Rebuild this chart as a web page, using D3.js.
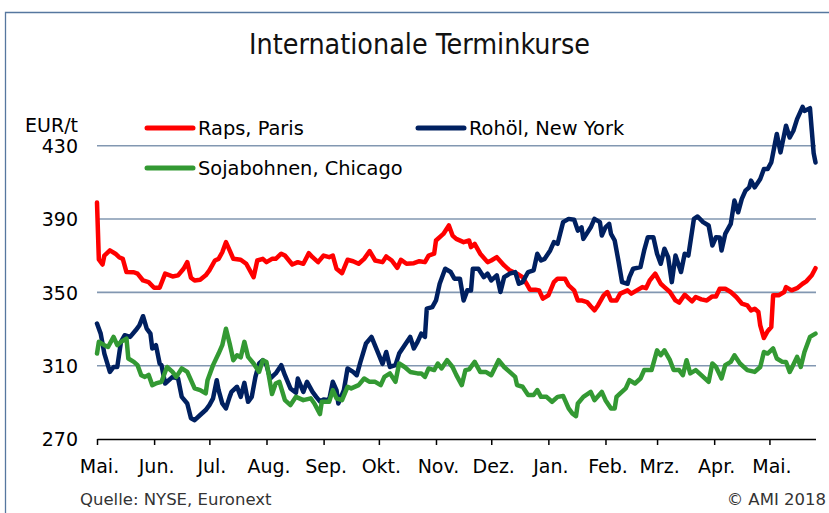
<!DOCTYPE html>
<html>
<head>
<meta charset="utf-8">
<script src="https://cdn.jsdelivr.net/npm/d3@7"></script>
<style>
	body { margin: 0; background: #fff; }
	svg { display: block; }
	.lbl { font-family: "DejaVu Sans", Verdana, sans-serif; font-size: 19px; fill: #000; }
	.leg { font-family: "DejaVu Sans", Verdana, sans-serif; font-size: 19.4px; fill: #000; }
	.foot { font-family: "DejaVu Sans", Verdana, sans-serif; font-size: 16.5px; fill: #333; }
</style>
</head>
<body>
<svg id="chart" width="829" height="513"></svg>
<script>
// values; first number = days since 1 May 2017
var startDate = new Date(2017, 4, 1);
var endDate = new Date(2017, 4, 1 + 390);

var monthLabels = ['Mai.', 'Jun.', 'Jul.', 'Aug.', 'Sep.', 'Okt.', 'Nov.', 'Dez.', 'Jan.', 'Feb.', 'Mrz.', 'Apr.', 'Mai.'];
var yTicks = [270, 310, 350, 390, 430];

var raps = [
	[0, 399], [1, 368], [3, 365.2], [4, 370.1], [7, 372.9], [10, 371.1], [12, 369.2], [14, 368.3], [16, 361.1], [20, 361],
	[22, 360.2], [25, 356.5], [28, 355.6], [31, 352.5], [34, 352.5], [37, 360.2], [41, 358.7], [44, 359.3], [47, 362.9], [49, 366.5],
	[51, 358], [53, 356.5], [56, 356.9], [59, 359.3], [61, 362], [64, 367.4], [66, 368.3], [68, 371.9], [70, 377.4], [72, 372.9],
	[74, 368.3], [78, 367.8], [81, 365.6], [85, 358.3], [87, 367.4], [90, 368.3], [92, 366.5], [95, 368.3], [97, 368.3], [100, 371.1],
	[102, 370.1], [106, 365.2], [109, 366.5], [112, 365.6], [115, 371.4], [117, 369.2], [120, 366.5], [123, 370.1], [126, 369.2], [128, 370.1],
	[130, 362.9], [133, 360.5], [136, 367.8], [139, 367], [142, 365.6], [145, 368.3], [148, 372.5], [151, 367.4], [155, 366.5], [157, 369.6],
	[160, 367.4], [163, 363.4], [165, 367.8], [168, 365.6], [172, 365.9], [175, 367], [178, 366.5], [180, 370.1], [183, 371.1], [184, 378.3],
	[188, 381.9], [191, 386.5], [193, 381], [195, 379.2], [199, 377.4], [202, 378.3], [203, 374.7], [205, 376.5], [208, 371.1], [212, 366.5],
	[214, 367.4], [217, 369.2], [221, 364.7], [224, 362], [228, 360.2], [231, 358.3], [233, 355], [235, 351.5], [238, 351.5], [240, 351.1],
	[242, 346.6], [245, 348.4], [248, 355.6], [250, 357.5], [254, 357.5], [256, 353.8], [259, 351.1], [261, 345.6], [263, 345.6], [266, 344.7],
	[268, 342.4], [270, 340.2], [272, 343], [275, 348.4], [277, 350.2], [279, 345.6], [282, 345.6], [284, 349.3], [288, 351.1], [290, 349.3],
	[293, 351.1], [296, 352.9], [298, 352.3], [300, 356.5], [303, 360.2], [306, 354.7], [308, 352.9], [311, 350.2], [314, 345.6], [316, 344.4],
	[319, 348.7], [323, 345.1], [325, 347.5], [328, 346.2], [331, 345.6], [334, 347.8], [336, 347.8], [338, 352], [341, 352], [344, 350.2],
	[347, 347.5], [350, 343.9], [353, 342.9], [355, 340.2], [357, 341.1], [359, 339.3], [360, 332], [362, 325.1], [364, 328.8], [366, 331.1],
	[367, 348.4], [370, 348.4], [373, 350.2], [374, 352.9], [377, 351.1], [380, 352.3], [383, 354.7], [385, 356], [388, 359.3], [390, 363.2]
];

var rohoel = [
	[0, 333], [2, 327.5], [4, 316.6], [7, 306.6], [9, 309.3], [11, 309.3], [13, 323], [15, 326.6], [18, 325.7], [21, 329.3],
	[23, 332], [25, 337], [27, 330.2], [29, 327.5], [30, 319.4], [32, 321.2], [34, 311.2], [35, 310.3], [37, 300.3], [41, 303.9],
	[44, 303], [46, 293], [49, 289.4], [51, 281.3], [53, 280.3], [56, 283.1], [59, 285.8], [61, 288.5], [63, 292.2], [65, 302.1],
	[66, 296.7], [68, 289.4], [70, 286.7], [72, 293], [73, 295.7], [76, 298.5], [78, 293], [80, 300.6], [82, 290.3], [84, 293],
	[86, 303.9], [88, 311.2], [90, 313], [92, 310.3], [94, 303], [97, 305.8], [100, 310.3], [102, 304.8], [105, 297.6], [108, 295.2],
	[109, 303], [112, 295.7], [114, 301.2], [117, 295.7], [119, 293], [121, 290.5], [123, 291.6], [126, 291.2], [128, 301.2], [130, 296.7],
	[131, 289.4], [134, 296.7], [136, 308.5], [139, 306.6], [141, 304.8], [143, 312.1], [146, 322.1], [149, 325.7], [152, 318.4], [155, 311],
	[157, 317.5], [159, 309.3], [162, 310.3], [164, 316.6], [167, 321.2], [170, 325.7], [172, 319.4], [174, 323], [176, 327.5], [178, 325.7],
	[179, 341.1], [182, 342], [184, 345.6], [186, 354.7], [189, 362.9], [192, 361.1], [194, 357.5], [197, 357.5], [199, 345.6], [201, 351.1],
	[203, 351], [204, 362.9], [207, 362.9], [210, 358.3], [212, 360.2], [214, 356.5], [217, 359.3], [219, 350.2], [221, 358.3], [224, 360.2],
	[227, 361.1], [229, 354.7], [231, 355.6], [234, 361.1], [237, 362], [239, 371.1], [241, 367.4], [243, 368.3], [246, 372.9], [248, 377.4],
	[250, 376.5], [253, 388.3], [256, 390.1], [259, 389.6], [261, 383.7], [263, 385.5], [264, 379.2], [268, 385.5], [270, 390.1], [273, 388.3],
	[274, 381], [276, 385.5], [278, 387.4], [279, 381.9], [281, 378.3], [283, 367.4], [285, 355.6], [288, 354.7], [289, 358.3], [291, 362.9],
	[295, 363.8], [297, 372.9], [299, 380.1], [302, 380.1], [304, 371.1], [306, 365.6], [308, 373.8], [310, 369.2], [312, 355.6], [314, 370.1],
	[317, 361.1], [319, 371.1], [321, 370.1], [324, 390.1], [326, 391.4], [329, 388.3], [332, 386.5], [334, 375.6], [336, 380.1], [338, 380],
	[339, 372.9], [341, 381.9], [344, 387.4], [346, 400.1], [348, 393.7], [350, 401], [352, 405.5], [354, 407.3], [355, 411], [357, 407.3],
	[360, 411.9], [362, 417.3], [364, 417.3], [366, 420.9], [369, 436.4], [371, 426.4], [374, 440.9], [376, 434.5], [378, 438.2], [380, 444.5],
	[383, 451.2], [384, 449], [387, 450.5], [388, 438.2], [389, 426], [390, 420.9]
];

var soja = [
	[0, 316.6], [1, 323], [4, 321.2], [6, 320.2], [9, 325.7], [11, 321.2], [13, 323], [16, 324.8], [17, 313.9], [20, 312.1],
	[22, 310.3], [24, 304.8], [26, 303.9], [28, 305], [30, 299.4], [32, 300.3], [35, 301.2], [38, 309.3], [41, 306.6], [43, 303.9],
	[46, 308.5], [49, 306.6], [51, 302.1], [53, 297.6], [56, 296.7], [59, 294.9], [60, 302.1], [63, 310.3], [66, 316.6], [68, 321.2],
	[70, 330.2], [72, 322.1], [74, 313], [76, 315.7], [78, 314.5], [80, 323], [82, 314.8], [85, 311.2], [88, 306.6], [90, 313],
	[92, 312], [95, 294.5], [97, 300.3], [99, 301.2], [102, 291.2], [105, 288.5], [108, 293], [112, 291.2], [116, 292.2], [118, 289.4],
	[121, 283.6], [122, 290.3], [126, 290.3], [128, 296.7], [130, 292.2], [133, 291.2], [136, 298.5], [138, 297.6], [142, 299.4], [145, 303],
	[148, 301.2], [151, 301.2], [154, 299.4], [156, 303.9], [159, 305.8], [162, 301.2], [164, 311.2], [167, 309.3], [170, 306.6], [174, 305.8],
	[176, 305.8], [178, 303.9], [180, 308.5], [183, 307.6], [185, 311.2], [187, 308.5], [190, 313], [193, 309.3], [195, 305], [198, 299.4],
	[200, 307.6], [202, 308], [205, 312.1], [208, 306.6], [211, 306.6], [214, 304.8], [218, 313], [221, 309.3], [224, 306.6], [227, 303.9],
	[228, 299.4], [231, 298.5], [234, 294], [237, 294], [239, 296.7], [241, 293], [244, 293], [247, 290.3], [250, 293], [253, 293.5],
	[256, 286.7], [258, 284], [260, 282.5], [261, 289.4], [264, 293], [268, 295.7], [270, 291.2], [274, 295.7], [276, 291.2], [279, 286.7],
	[281, 286.7], [282, 293], [284, 294.9], [287, 297.6], [289, 302.1], [292, 300.3], [295, 303], [297, 307.6], [301, 307.6], [304, 318.4],
	[306, 315.7], [308, 318.4], [311, 313], [313, 307.6], [316, 307.6], [318, 304.8], [320, 313], [322, 305.8], [325, 307.6], [328, 304.8],
	[332, 301.2], [334, 311.2], [336, 309.3], [339, 303], [341, 310.3], [344, 312.1], [346, 315.7], [349, 311.2], [353, 307.6], [357, 306.6],
	[360, 309.3], [362, 317.5], [364, 316.6], [367, 319.4], [369, 313.9], [372, 312.1], [374, 312], [376, 306.6], [377, 308.5], [380, 314.8],
	[382, 309.3], [384, 317.5], [387, 325.7], [390, 327.5]
];

var series = [
	{ name: 'Raps, Paris', color: '#ff0000', data: raps, lx: 147, ly: 128 },
	{ name: 'Rohöl, New York', color: '#002060', data: rohoel, lx: 418, ly: 128 },
	{ name: 'Sojabohnen, Chicago', color: '#339933', data: soja, lx: 147, ly: 168 }
];

var svg = d3.select('#chart');

var x = d3.scaleTime().domain([startDate, endDate]).range([97, 815.5]);
var y = d3.scaleLinear().domain([270, 450]).range([439, 109.1]);

function dayToDate(d){
	return d3.timeDay.offset(startDate, d);
}

//frame (left and top edge only)
svg.append('path')
	.attr('d', 'M5.5,513 V12.5 H829')
	.attr('fill', 'none')
	.attr('stroke', '#56779f')
	.attr('stroke-width', 1.3);

//title
svg.append('text')
	.attr('x', 249)
	.attr('y', 53.5)
	.attr('textLength', 341)
	.attr('lengthAdjust', 'spacingAndGlyphs')
	.style('font-family', '"Liberation Sans Narrow", "DejaVu Sans Condensed", sans-serif')
	.style('font-size', '29px')
	.style('fill', '#111')
	.text('Internationale Terminkurse');

//gridlines
svg.append('g').selectAll('line')
	.data(yTicks.slice(1))
	.enter().append('line')
	.attr('x1', 97).attr('x2', 816)
	.attr('y1', function(d){ return y(d); })
	.attr('y2', function(d){ return y(d); })
	.attr('stroke', '#8297b1')
	.attr('stroke-width', 1.6);

//y labels
svg.append('g').selectAll('text')
	.data(yTicks)
	.enter().append('text')
	.attr('class', 'lbl')
	.attr('x', 78)
	.attr('y', function(d){ return y(d); })
	.attr('dy', '0.38em')
	.attr('text-anchor', 'end')
	.text(function(d){ return d; });

svg.append('text')
	.attr('class', 'lbl')
	.attr('x', 78)
	.attr('y', 132)
	.attr('text-anchor', 'end')
	.text('EUR/t');

//x axis
var months = d3.timeMonth.range(startDate, endDate);
var xAxis = d3.axisBottom(x)
	.tickValues(months)
	.tickSize(6)
	.tickSizeOuter(0)
	.tickFormat(function(d, i){ return monthLabels[i]; });

var ax = svg.append('g')
	.attr('transform', 'translate(0,439)')
	.call(xAxis);
ax.select('.domain').attr('stroke', '#000').attr('stroke-width', 1.5);
ax.selectAll('.tick line').attr('stroke', '#000').attr('stroke-width', 1.5);
ax.selectAll('.tick text')
	.attr('class', 'lbl')
	.attr('y', 34)
	.attr('dy', 0)
	.attr('dx', 2)
	.style('font-family', '"DejaVu Sans", Verdana, sans-serif')
	.style('font-size', '19px')
	.attr('fill', '#000');

//series
var line = d3.line()
	.x(function(d){ return x(dayToDate(d[0])); })
	.y(function(d){ return y(d[1]); });

svg.append('g').selectAll('path')
	.data(series)
	.enter().append('path')
	.attr('d', function(d){ return line(d.data); })
	.attr('fill', 'none')
	.attr('stroke', function(d){ return d.color; })
	.attr('stroke-width', 4.5)
	.attr('stroke-linejoin', 'round')
	.attr('stroke-linecap', 'round');

//legend
var leg = svg.append('g').selectAll('g')
	.data(series)
	.enter().append('g')
	.attr('transform', function(d){ return 'translate(' + d.lx + ',' + d.ly + ')'; });
leg.append('line')
	.attr('x1', 0).attr('x2', 46)
	.attr('stroke', function(d){ return d.color; })
	.attr('stroke-width', 5)
	.attr('stroke-linecap', 'round');
leg.append('text')
	.attr('class', 'leg')
	.attr('x', 51)
	.attr('y', 7)
	.text(function(d){ return d.name; });

//footer
svg.append('text')
	.attr('class', 'foot')
	.attr('x', 80)
	.attr('y', 505)
	.text('Quelle: NYSE, Euronext');
svg.append('text')
	.attr('class', 'foot')
	.attr('x', 826)
	.attr('y', 505)
	.attr('text-anchor', 'end')
	.text('© AMI 2018');
</script>
</body>
</html>
